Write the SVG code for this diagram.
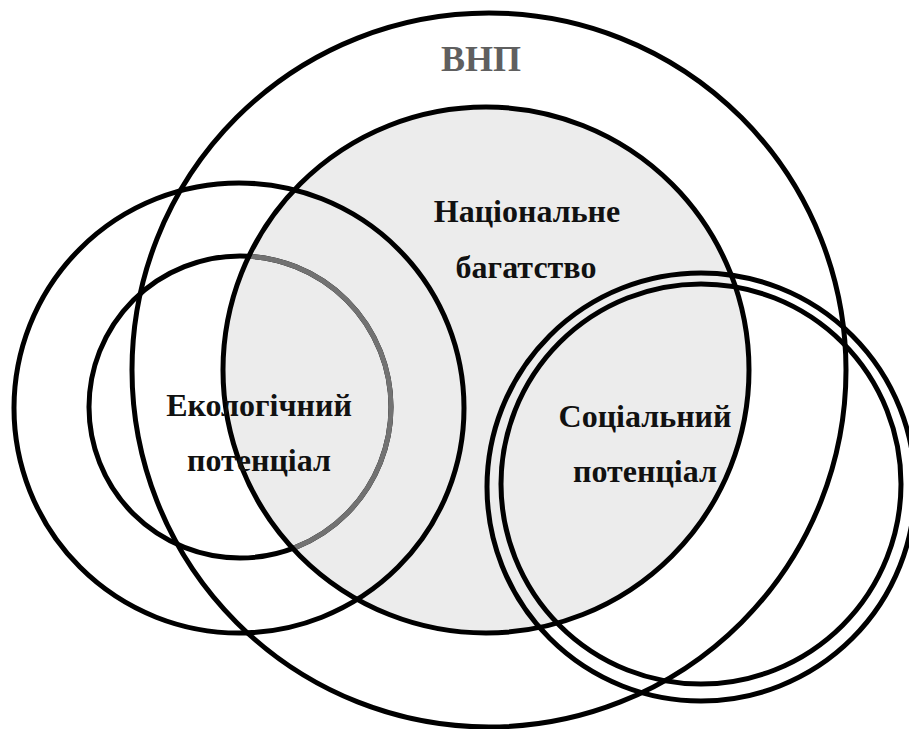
<svg xmlns="http://www.w3.org/2000/svg" width="909" height="729" viewBox="0 0 909 729">
  <style>
    .ring { fill: none; stroke: #000; stroke-width: 5; }
    .lbl { font-family: 'Liberation Serif', 'DejaVu Serif', serif; font-weight: 700; font-size: 32px; fill: #111; text-anchor: middle; }
    .title { font-family: 'Liberation Serif', 'DejaVu Serif', serif; font-weight: 700; font-size: 36px; fill: #5f5f5f; text-anchor: middle; }
  </style>
  <defs>
    <clipPath id="nwClip">
      <circle cx="486" cy="370" r="263"/>
    </clipPath>
  </defs>
  <rect x="0" y="0" width="909" height="729" fill="#fff"/>

  <g id="national-fill">
    <circle cx="486" cy="370" r="263" fill="#ececec"/>
  </g>

  <g id="gnp">
    <circle class="ring" cx="489" cy="370" r="357"/>
    <text class="title" x="481" y="71">ВНП</text>
  </g>

  <g id="ecological">
    <circle class="ring" cx="239" cy="408" r="225"/>
    <circle class="ring" cx="240" cy="407" r="151"/>
    <circle cx="240" cy="407" r="151" fill="none" stroke="#727272" stroke-width="5" clip-path="url(#nwClip)"/>
  </g>

  <g id="social">
    <circle class="ring" cx="701" cy="487" r="214"/>
    <circle class="ring" cx="701" cy="484" r="200"/>
  </g>

  <g id="national">
    <circle class="ring" cx="486" cy="370" r="263"/>
  </g>

  <g id="labels">
    <text class="lbl" x="527" y="222">Національне</text>
    <text class="lbl" x="526" y="278">багатство</text>
    <text class="lbl" x="259" y="416">Екологічний</text>
    <text class="lbl" x="259" y="471">потенціал</text>
    <text class="lbl" x="645" y="427">Соціальний</text>
    <text class="lbl" x="645" y="482">потенціал</text>
  </g>
</svg>
